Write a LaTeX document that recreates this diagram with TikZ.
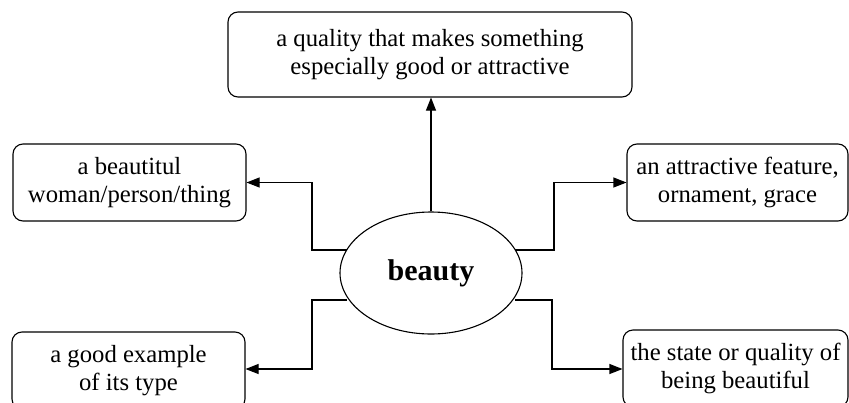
\documentclass[tikz,border=0pt]{standalone}
\usepackage{fontspec}
\setmainfont{Liberation Serif}
\usetikzlibrary{arrows.meta,shapes.geometric}
\begin{document}
\begin{tikzpicture}[x=1pt,y=-1pt,
  box/.style={draw, line width=1.1pt, rounded corners=10pt, inner sep=0pt, align=center,
    font=\fontsize{24.7}{27.5}\selectfont},
  arr/.style={line width=1.1pt, -{Triangle[length=13pt,width=10pt]}}]
\useasboundingbox (0,0) rectangle (849,402);
\begin{scope}
\clip (0,0) rectangle (849,402);
\node[box, minimum width=404pt, minimum height=85pt] (top) at (430,54.5)
  {a quality that makes something\\especially good or attractive};
\node[box, minimum width=233pt, minimum height=77pt] (lt) at (129.5,182.5)
  {a beautitul\\woman/person/thing};
\node[box, minimum width=233pt, minimum height=77pt] (lb) at (128.5,370.5)
  {a good example\\of its type};
\node[box, minimum width=221pt, minimum height=77pt] (rt) at (737.5,182.5)
  {an attractive feature,\\ornament, grace};
\node[box, minimum width=225pt, minimum height=77pt] (rb) at (735.5,368.5)
  {the state or quality of\\being beautiful};
\node[ellipse, draw, line width=1.1pt, minimum width=182pt, minimum height=122pt, inner sep=0pt,
  font=\fontsize{30}{32}\selectfont\bfseries] (e) at (431,273) {beauty};
\coordinate (c1) at (312,250);
\coordinate (c2) at (312,300);
\coordinate (c3) at (554,250);
\coordinate (c4) at (552,300);
\draw[arr] (e.north) -- (e.north |- top.south);
\draw[arr] (e.center |- c1) ++(-84,0) -- (c1) |- (lt.east);
\draw[arr] (e.center |- c2) ++(-84,0) -- (c2) |- (lb.east |- 0,369);
\draw[arr] (e.center |- c3) ++(84,0) -- (c3) |- (rt.west);
\draw[arr] (e.center |- c4) ++(84,0) -- (c4) |- (rb.west |- 0,369);
\end{scope}
\end{tikzpicture}
\end{document}
